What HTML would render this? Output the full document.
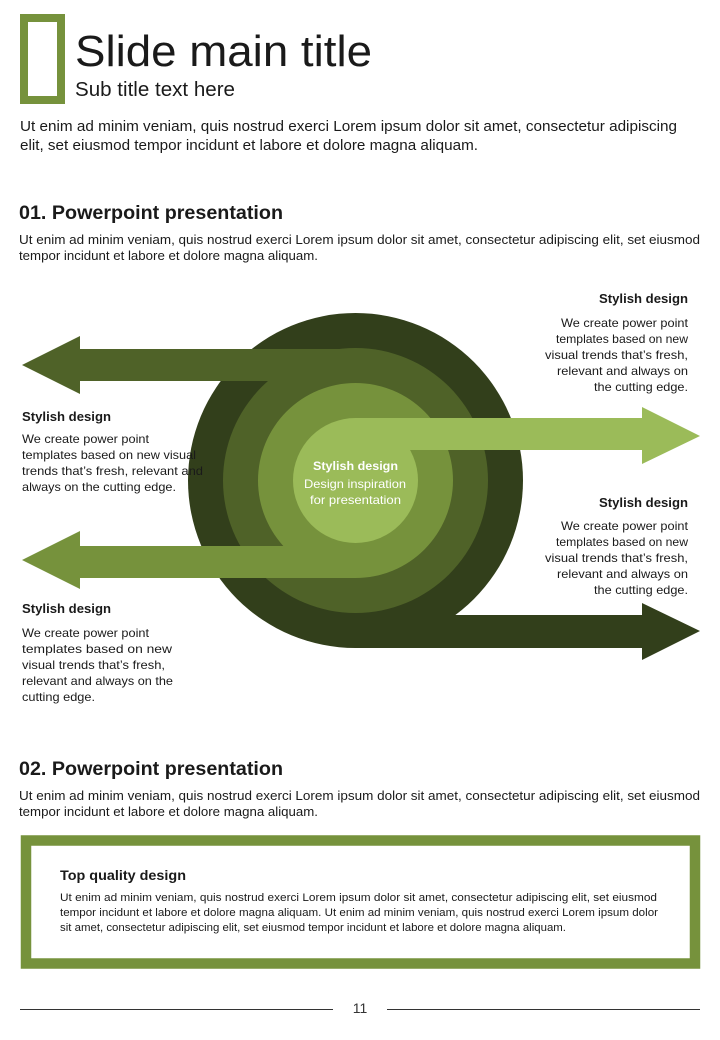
<!DOCTYPE html>
<html><head><meta charset="utf-8"><style>html,body{margin:0;padding:0;background:#fff}svg{display:block}</style></head><body>
<svg width="720" height="1040" viewBox="0 0 720 1040" xmlns="http://www.w3.org/2000/svg" font-family="Liberation Sans, sans-serif" fill="#1a1a1a">
<rect x="24" y="18" width="37" height="82" fill="none" stroke="#76923c" stroke-width="8"/>
<text x="75" y="66" font-size="44" textLength="297" lengthAdjust="spacingAndGlyphs">Slide main title</text>
<text x="75" y="96" font-size="20" textLength="160" lengthAdjust="spacingAndGlyphs">Sub title text here</text>
<g font-size="15">
<text x="20" y="131" textLength="657" lengthAdjust="spacingAndGlyphs">Ut enim ad minim veniam, quis nostrud exerci  Lorem ipsum dolor sit amet, consectetur adipiscing</text>
<text x="20" y="150" textLength="458" lengthAdjust="spacingAndGlyphs">elit, set eiusmod tempor incidunt et labore et dolore magna aliquam.</text>
</g>
<text x="19" y="219" font-size="19" font-weight="bold" textLength="264" lengthAdjust="spacingAndGlyphs">01. Powerpoint presentation</text>
<g font-size="13">
<text x="19" y="244" textLength="681" lengthAdjust="spacingAndGlyphs">Ut enim ad minim veniam, quis nostrud exerci  Lorem ipsum dolor sit amet, consectetur adipiscing elit, set eiusmod</text>
<text x="19" y="260" textLength="299" lengthAdjust="spacingAndGlyphs">tempor incidunt et labore et dolore magna aliquam.</text>
</g>

<!-- diagram -->
<circle cx="355.5" cy="480.5" r="167.5" fill="#323f1b"/>
<circle cx="355.5" cy="480.5" r="132.5" fill="#4f6228"/>
<circle cx="355.5" cy="480.5" r="97.5" fill="#76923c"/>
<circle cx="355.5" cy="480.5" r="62.5" fill="#9bbb59"/>
<polygon points="355,349 80,349 80,336 22,365 80,394 80,381 355,381" fill="#4f6228"/>
<polygon points="355,546 80,546 80,531 22,560 80,589 80,578 355,578" fill="#76923c"/>
<polygon points="355,418 642,418 642,407 700,436 642,464 642,450 355,450" fill="#9bbb59"/>
<polygon points="355,615 642,615 642,603 700,631 642,660 642,648 355,648" fill="#323f1b"/>
<g fill="#fff" font-size="12" text-anchor="middle">
<text x="355.5" y="470" font-weight="bold" textLength="85" lengthAdjust="spacingAndGlyphs">Stylish design</text>
<text x="355" y="488" textLength="102" lengthAdjust="spacingAndGlyphs">Design inspiration</text>
<text x="355.5" y="504" textLength="91" lengthAdjust="spacingAndGlyphs">for presentation</text>
</g>

<g font-size="12">
<text x="599" y="303" font-size="13" font-weight="bold" textLength="89" lengthAdjust="spacingAndGlyphs">Stylish design</text>
<text x="561" y="327" textLength="127" lengthAdjust="spacingAndGlyphs">We create power point</text>
<text x="556" y="343" textLength="132" lengthAdjust="spacingAndGlyphs">templates based on new</text>
<text x="545" y="359" textLength="143" lengthAdjust="spacingAndGlyphs">visual trends that’s fresh,</text>
<text x="557" y="375" textLength="131" lengthAdjust="spacingAndGlyphs">relevant and always on</text>
<text x="594" y="391" textLength="94" lengthAdjust="spacingAndGlyphs">the cutting edge.</text>

<text x="599" y="507" font-size="13" font-weight="bold" textLength="89" lengthAdjust="spacingAndGlyphs">Stylish design</text>
<text x="561" y="530" textLength="127" lengthAdjust="spacingAndGlyphs">We create power point</text>
<text x="556" y="546" textLength="132" lengthAdjust="spacingAndGlyphs">templates based on new</text>
<text x="545" y="562" textLength="143" lengthAdjust="spacingAndGlyphs">visual trends that’s fresh,</text>
<text x="557" y="578" textLength="131" lengthAdjust="spacingAndGlyphs">relevant and always on</text>
<text x="594" y="594" textLength="94" lengthAdjust="spacingAndGlyphs">the cutting edge.</text>

<text x="22" y="421" font-size="13" font-weight="bold" textLength="89" lengthAdjust="spacingAndGlyphs">Stylish design</text>
<text x="22" y="443" textLength="127" lengthAdjust="spacingAndGlyphs">We create power point</text>
<text x="22" y="459" textLength="174" lengthAdjust="spacingAndGlyphs">templates based on new visual</text>
<text x="22" y="475" textLength="181" lengthAdjust="spacingAndGlyphs">trends that’s fresh, relevant and</text>
<text x="22" y="491" textLength="154" lengthAdjust="spacingAndGlyphs">always on the cutting edge.</text>

<text x="22" y="613" font-size="13" font-weight="bold" textLength="89" lengthAdjust="spacingAndGlyphs">Stylish design</text>
<text x="22" y="637" textLength="127" lengthAdjust="spacingAndGlyphs">We create power point</text>
<text x="22" y="653" textLength="150" lengthAdjust="spacingAndGlyphs">templates based on new</text>
<text x="22" y="669" textLength="143" lengthAdjust="spacingAndGlyphs">visual trends that’s fresh,</text>
<text x="22" y="685" textLength="151" lengthAdjust="spacingAndGlyphs">relevant and always on the</text>
<text x="22" y="701" textLength="73" lengthAdjust="spacingAndGlyphs">cutting edge.</text>
</g>

<text x="19" y="775" font-size="19" font-weight="bold" textLength="264" lengthAdjust="spacingAndGlyphs">02. Powerpoint presentation</text>
<g font-size="13">
<text x="19" y="800" textLength="681" lengthAdjust="spacingAndGlyphs">Ut enim ad minim veniam, quis nostrud exerci  Lorem ipsum dolor sit amet, consectetur adipiscing elit, set eiusmod</text>
<text x="19" y="816" textLength="299" lengthAdjust="spacingAndGlyphs">tempor incidunt et labore et dolore magna aliquam.</text>
</g>

<rect x="26" y="840.5" width="669" height="123" fill="none" stroke="#76923c" stroke-width="10.5"/>
<text x="60" y="880" font-size="14" font-weight="bold" textLength="126" lengthAdjust="spacingAndGlyphs">Top quality design</text>
<g font-size="11">
<text x="60" y="901" textLength="597" lengthAdjust="spacingAndGlyphs">Ut enim ad minim veniam, quis nostrud exerci  Lorem ipsum dolor sit amet, consectetur adipiscing elit, set eiusmod</text>
<text x="60" y="916" textLength="598" lengthAdjust="spacingAndGlyphs">tempor incidunt et labore et dolore magna aliquam. Ut enim ad minim veniam, quis nostrud exerci  Lorem ipsum dolor</text>
<text x="60" y="931" textLength="506" lengthAdjust="spacingAndGlyphs">sit amet, consectetur adipiscing elit, set eiusmod tempor incidunt et labore et dolore magna aliquam.</text>
</g>

<line x1="20" y1="1009.5" x2="333" y2="1009.5" stroke="#333" stroke-width="1"/>
<line x1="387" y1="1009.5" x2="700" y2="1009.5" stroke="#333" stroke-width="1"/>
<text x="360" y="1013" font-size="14" text-anchor="middle" fill="#333">11</text>
</svg>
</body></html>
